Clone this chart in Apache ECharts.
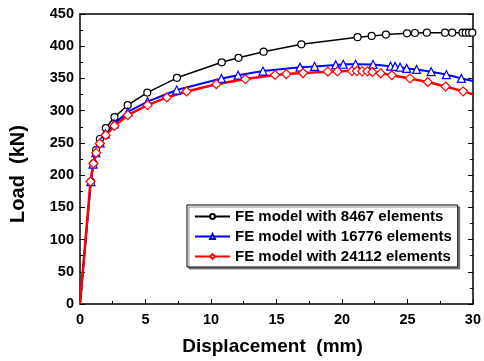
<!DOCTYPE html>
<html>
<head>
<meta charset="utf-8">
<script src="https://cdn.jsdelivr.net/npm/echarts@6/dist/echarts.min.js"></script>
<style>
  html, body { margin: 0; padding: 0; background: #fff; }
  #chart { width: 484px; height: 361px; }
</style>
</head>
<body>
<div id="chart"></div>
<script>
// Load–displacement curves for three mesh densities
const seriesNames = [
  'FE model with 8467 elements',
  'FE model with 16776 elements',
  'FE model with 24112 elements'
];

// [displacement (mm), load (kN)]
const mesh8467 = [
  [0, 0], [0.83, 190], [1.03, 218], [1.23, 239], [1.52, 256], [1.97, 273],
  [2.63, 290], [3.64, 308.5], [5.14, 328], [7.4, 351], [10.82, 375],
  [12.1, 382], [14.02, 391.5], [16.9, 403], [21.19, 414], [22.27, 416],
  [23.36, 418], [24.97, 420], [25.57, 420.5], [26.48, 421], [27.87, 421],
  [28.42, 421], [29.2, 421], [29.45, 421], [29.7, 421], [29.95, 421]
];
const mesh16776 = [
  [0, 0], [0.83, 190], [1.0, 217], [1.21, 235], [1.54, 250], [1.94, 264],
  [2.6, 279.5], [3.65, 298], [5.16, 314], [7.38, 332], [10.8, 350],
  [12.07, 355], [13.97, 361.5], [16.8, 367.5], [17.91, 368.6], [19.52, 371],
  [20.1, 372], [21.04, 372], [22.37, 371.7], [23.71, 369], [24.06, 368.6],
  [24.44, 367.5], [24.94, 365.6], [25.7, 364], [26.81, 360.5], [27.97, 356],
  [29.12, 350], [30, 346]
];
const mesh24112 = [
  [0, 0], [0.8, 190], [1.02, 218], [1.23, 234.5], [1.51, 249], [1.96, 262],
  [2.63, 276.5], [3.65, 293], [5.16, 308.7], [6.63, 320.5], [8.14, 329.8],
  [10.41, 341], [12.62, 349], [14.89, 355.5], [15.75, 356.8], [17.03, 358.4],
  [18.92, 360.5], [19.65, 361], [20.76, 361.4], [21.14, 361.4], [21.54, 361],
  [21.94, 361], [22.32, 360], [22.95, 358], [23.81, 355], [25.19, 350],
  [26.55, 344.5], [27.91, 337.5], [29.25, 330], [30, 325.6]
];

const FONT = '"Liberation Sans", Arial, sans-serif';

// The origin and the curve ends at the frame edge carry no marker
function toData(arr) {
  return arr.map((p) => {
    const bare = (p[0] === 0 && p[1] === 0) || p[0] >= 30;
    return bare ? { value: p, symbol: 'none' } : { value: p };
  });
}

// Hollow markers: white fill with a thin outline in the series colour
function lineSeries(name, data, color, width, symbol, size) {
  return {
    name: name,
    type: 'line',
    data: toData(data),
    symbol: symbol,
    symbolSize: size,
    showAllSymbol: true,
    color: color,
    lineStyle: { color: color, width: width },
    itemStyle: { color: '#fff', borderColor: color, borderWidth: 1.2 },
    z: 3,
    animation: false
  };
}

const tickLabel = { fontFamily: FONT, fontWeight: 'bold', fontSize: 14.5, color: '#000' };

const chart = echarts.init(document.getElementById('chart'), null, { renderer: 'canvas' });
chart.setOption({
  backgroundColor: '#fff',
  animation: false,
  grid: { left: 79, right: 8, top: 14, bottom: 54 },
  legend: {
    data: seriesNames,
    orient: 'vertical',
    left: 187,
    top: 205,
    itemWidth: 35,
    itemHeight: 6,
    itemGap: 5,
    padding: [4, 6, 3, 7],
    backgroundColor: '#fff',
    borderColor: '#000',
    borderWidth: 1,
    shadowColor: 'rgba(0,0,0,0.45)',
    shadowOffsetX: 2,
    shadowOffsetY: 2,
    shadowBlur: 0,
    textStyle: { fontFamily: FONT, fontWeight: 'bold', fontSize: 15, color: '#000' }
  },
  xAxis: [{
    type: 'value', min: 0, max: 30, interval: 5,
    name: 'Displacement  (mm)', nameLocation: 'middle', nameGap: 33,
    nameTextStyle: { fontFamily: FONT, fontWeight: 'bold', fontSize: 19, color: '#000', padding: [0, 8, 0, 0] },
    axisLine: { onZero: false, lineStyle: { color: '#000', width: 1.5 } },
    axisTick: { inside: true, length: 5, lineStyle: { color: '#000', width: 1 } },
    minorTick: { show: true, splitNumber: 2, length: 3, lineStyle: { color: '#000', width: 1 } },
    axisLabel: Object.assign({ margin: 8 }, tickLabel),
    splitLine: { show: false }
  }, {
    type: 'value', min: 0, max: 30, interval: 5, position: 'top',
    axisLine: { show: true, onZero: false, lineStyle: { color: '#000', width: 1.5 } },
    axisTick: { show: false }, axisLabel: { show: false }, splitLine: { show: false }
  }],
  yAxis: [{
    type: 'value', min: 0, max: 450, interval: 50,
    name: 'Load  (kN)', nameLocation: 'middle', nameGap: 52, nameRotate: 90,
    nameTextStyle: { fontFamily: FONT, fontWeight: 'bold', fontSize: 20, color: '#000', padding: [0, 30, 0, 0] },
    axisLine: { show: true, onZero: false, lineStyle: { color: '#000', width: 1.5 } },
    axisTick: { inside: true, length: 5, lineStyle: { color: '#000', width: 1 } },
    minorTick: { show: true, splitNumber: 2, length: 3, lineStyle: { color: '#000', width: 1 } },
    axisLabel: Object.assign({ margin: 6 }, tickLabel),
    splitLine: { show: false }
  }, {
    type: 'value', min: 0, max: 450, interval: 50, position: 'right',
    axisLine: { show: true, onZero: false, lineStyle: { color: '#000', width: 1.5 } },
    axisTick: { inside: true, length: 5, lineStyle: { color: '#000', width: 1 } },
    minorTick: { show: true, splitNumber: 2, length: 3, lineStyle: { color: '#000', width: 1 } },
    axisLabel: { show: false }, splitLine: { show: false }
  }],
  series: [
    lineSeries(seriesNames[0], mesh8467, '#000000', 1.5, 'circle', 7),
    lineSeries(seriesNames[1], mesh16776, '#0000ff', 2, 'triangle', 8),
    lineSeries(seriesNames[2], mesh24112, '#ff0000', 2.5, 'diamond', 9)
  ]
});
</script>
</body>
</html>
